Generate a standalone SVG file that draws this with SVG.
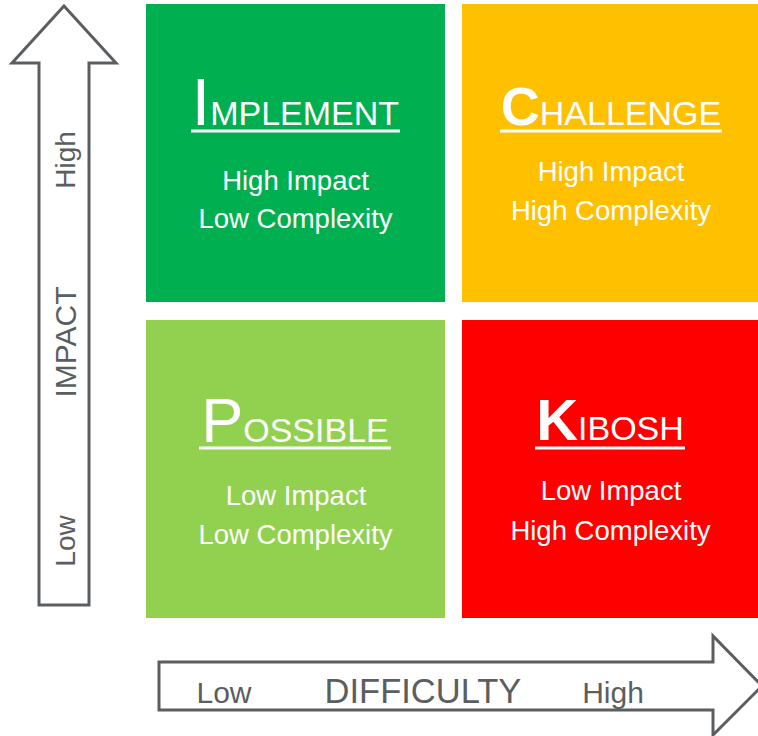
<svg xmlns="http://www.w3.org/2000/svg" width="758" height="736" viewBox="0 0 758 736">
  <style>
    text { font-family: "Liberation Sans", Arial, sans-serif; }
    .axis { fill: #ffffff; stroke: #5b5e60; stroke-width: 3; stroke-linejoin: miter; }
    .axis-label { fill: #5b5e60; text-anchor: middle; }
    .title { fill: #ffffff; text-anchor: middle; font-size: 34px; }
    .initial { font-size: 66px; }
    .initial-bold { font-weight: bold; }
    .rule { stroke: #ffffff; stroke-width: 3; }
    .desc { fill: #ffffff; text-anchor: middle; font-size: 27.5px; }
  </style>

  <!-- vertical axis: impact -->
  <g id="axis-impact">
    <path class="axis" d="M64,6 L116,63 L89,63 L89,605 L39,605 L39,63 L12,63 Z"/>
    <text class="axis-label" font-size="28" transform="translate(75,160) rotate(-90)">High</text>
    <text class="axis-label" font-size="30" transform="translate(76,342) rotate(-90)">IMPACT</text>
    <text class="axis-label" font-size="28" transform="translate(75,541) rotate(-90)">Low</text>
  </g>

  <!-- horizontal axis: difficulty -->
  <g id="axis-difficulty">
    <path class="axis" d="M159,662 L713,662 L713,636 L762,686 L713,735 L713,710 L159,710 Z"/>
    <text class="axis-label" font-size="30" x="224" y="703">Low</text>
    <text class="axis-label" font-size="34.5" x="423" y="703">DIFFICULTY</text>
    <text class="axis-label" font-size="30" x="613" y="703">High</text>
  </g>

  <!-- quadrant: high impact, low complexity -->
  <g id="implement">
    <rect x="146" y="4" width="299" height="298" fill="#00B050"/>
    <text class="title" x="295.5" y="125"><tspan class="initial">I</tspan>MPLEMENT</text>
    <line class="rule" x1="191" y1="131" x2="400" y2="131"/>
    <text class="desc" x="295.5" y="190">High Impact</text>
    <text class="desc" x="295.5" y="228">Low Complexity</text>
  </g>

  <!-- quadrant: high impact, high complexity -->
  <g id="challenge">
    <rect x="462" y="4" width="299" height="298" fill="#FFC000"/>
    <text class="title" x="611" y="125"><tspan class="initial-bold" font-size="54">C</tspan>HALLENGE</text>
    <line class="rule" x1="500" y1="131" x2="722" y2="131"/>
    <text class="desc" x="611" y="181">High Impact</text>
    <text class="desc" x="611" y="220">High Complexity</text>
  </g>

  <!-- quadrant: low impact, low complexity -->
  <g id="possible">
    <rect x="146" y="320" width="299" height="298" fill="#92D050"/>
    <text class="title" x="295" y="442" font-size="32"><tspan font-size="63">P</tspan>OSSIBLE</text>
    <line class="rule" x1="199" y1="448" x2="391" y2="448"/>
    <text class="desc" x="296" y="505">Low Impact</text>
    <text class="desc" x="295.5" y="544">Low Complexity</text>
  </g>

  <!-- quadrant: low impact, high complexity -->
  <g id="kibosh">
    <rect x="462" y="320" width="299" height="298" fill="#FF0000"/>
    <text class="title" x="610" y="440" font-size="33"><tspan class="initial-bold" font-size="58">K</tspan>IBOSH</text>
    <line class="rule" x1="535" y1="448" x2="685" y2="448"/>
    <text class="desc" x="611" y="500">Low Impact</text>
    <text class="desc" x="610.5" y="540">High Complexity</text>
  </g>
</svg>
